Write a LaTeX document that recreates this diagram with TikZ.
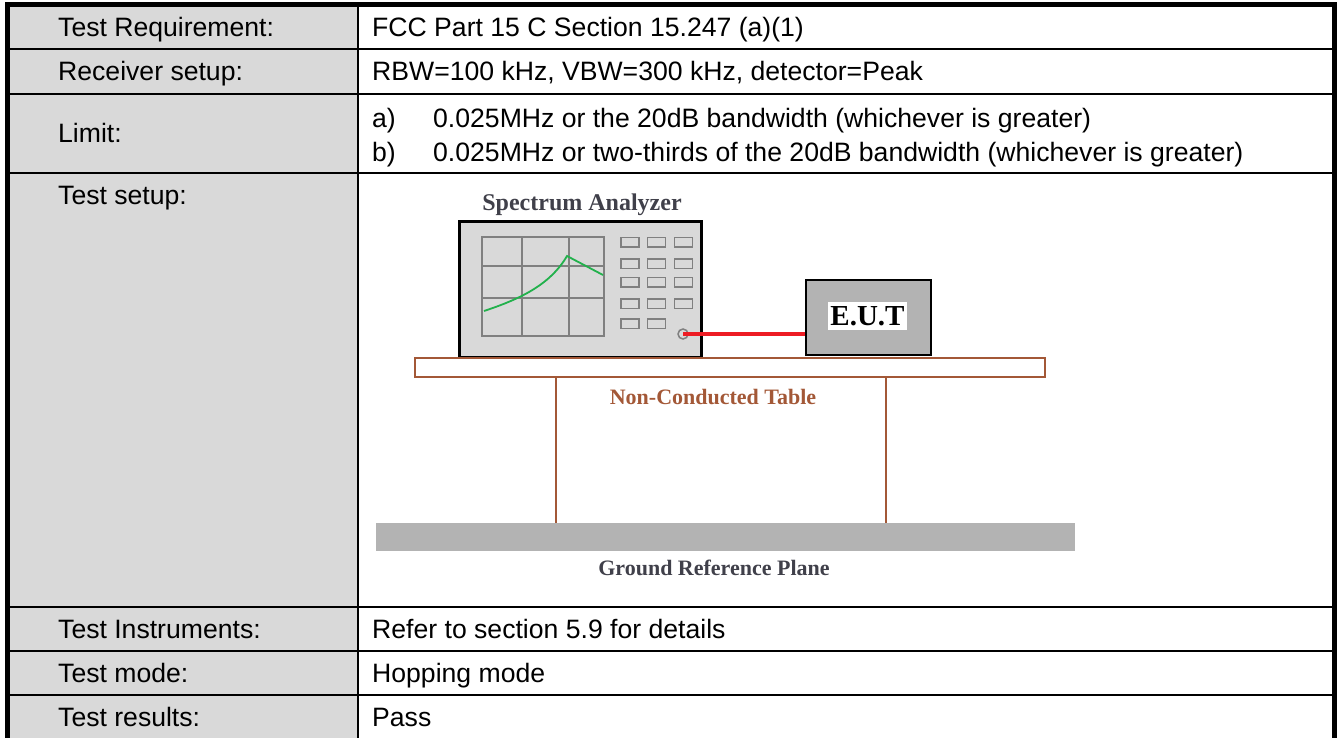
\documentclass[tikz,border=0pt]{standalone}
\usepackage{fontspec}
\setmainfont{Liberation Sans}
\newfontfamily\diagfont{Liberation Serif}
\usetikzlibrary{positioning}
\definecolor{cellgray}{RGB}{217,217,217}
\definecolor{tablebrown}{RGB}{163,88,55}
\definecolor{planegray}{RGB}{179,179,179}
\definecolor{curvegreen}{RGB}{34,177,76}
\definecolor{cablered}{RGB}{237,28,36}
\definecolor{titlegray}{RGB}{64,64,74}

\begin{document}
\begin{tikzpicture}[x=1pt,y=-1pt]
	\tikzset{rowtext/.style = {anchor=base west, inner sep=0pt,
			font=\fontsize{26.6}{32}\selectfont}}
	\tikzset{rule/.style = {line width=2pt}}
	\tikzset{frame/.style = {line width=5pt}}
	\tikzset{analyzer/.style = {shape=rectangle, draw, line width=3pt,
			fill=cellgray, minimum width=242pt, minimum height=136pt}}
	\tikzset{button/.style = {shape=rectangle, draw=gray, line width=1.5pt,
			fill=cellgray, minimum width=18pt, minimum height=9.5pt, inner sep=0pt}}
	\tikzset{screen/.style = {draw=gray, line width=1.8pt}}
	\tikzset{curve/.style = {draw=curvegreen, line width=1.8pt}}
	\tikzset{port/.style = {shape=circle, draw=gray, line width=1.5pt,
			minimum size=10pt, inner sep=0pt}}
	\tikzset{cable/.style = {draw=cablered, line width=4pt}}
	\tikzset{eutbox/.style = {shape=rectangle, draw, line width=2pt,
			fill=planegray, minimum width=125pt, minimum height=75pt}}
	\tikzset{tabletop/.style = {shape=rectangle, draw=tablebrown, line width=2pt,
			minimum width=630pt, minimum height=19pt}}
	\tikzset{leg/.style = {draw=tablebrown, line width=2pt}}
	\tikzset{plane/.style = {shape=rectangle, fill=planegray,
			minimum width=699pt, minimum height=28pt}}
	\tikzset{caption/.style = {inner sep=0pt, anchor=base,
			font=\diagfont\bfseries\fontsize{22}{26}\selectfont}}
	
	\useasboundingbox (0,0) rectangle (1340,738);
	
	% table
	\fill[cellgray] (7.5,4.5) rectangle (358,738);
	\foreach \ry in {49,94,173,607,651,695}
	\draw[rule] (7.5,\ry) -- (1334.5,\ry);
	\draw[rule] (358,4.5) -- (358,738);
	\draw[frame] (7.5,738) -- (7.5,4.5) -- (1334.5,4.5) -- (1334.5,738);
	
	\node[rowtext] (lreq) at (58,37) {Test Requirement:};
	\node[rowtext] (lrx) at (58,81) {Receiver setup:};
	\node[rowtext] (llim) at (58,143) {Limit:};
	\node[rowtext] (lsetup) at (58,204.5) {Test setup:};
	\node[rowtext] (linst) at (58,638.5) {Test Instruments:};
	\node[rowtext] (lmode) at (58,682.5) {Test mode:};
	\node[rowtext] (lres) at (58,726) {Test results:};
	
	\node[rowtext] (vreq) at (372,37) {FCC Part 15 C Section 15.247 (a)(1)};
	\node[rowtext] (vrx) at (372,81) {RBW=100 kHz, VBW=300 kHz, detector=Peak};
	\node[rowtext] (ia) at (372,127.5) {a)};
	\node[rowtext] (va) at (433,127.5) {0.025MHz or the 20dB bandwidth (whichever is greater)};
	\node[rowtext] (ib) at (372,161.5) {b)};
	\node[rowtext] (vb) at (433,161.5) {0.025MHz or two-thirds of the 20dB bandwidth (whichever is greater)};
	\node[rowtext] (vinst) at (372,638.5) {Refer to section 5.9 for details};
	\node[rowtext] (vmode) at (372,682.5) {Hopping mode};
	\node[rowtext] (vres) at (372,726) {Pass};
	
	% setup
	\node[analyzer] (sa) at (580,289) {};
	\node[caption, text=titlegray, font=\diagfont\bfseries\fontsize{24}{28}\selectfont] (satitle) at (582,210) {Spectrum Analyzer};
	\draw[screen] (482,237) rectangle (604,336);
	\draw[screen] (522,237) -- (522,336) (569,237) -- (569,336);
	\draw[screen] (482,266) -- (604,266) (482,298) -- (604,298);
	\draw[curve] (484,311) .. controls (520,299) and (550,285) .. (567,256) -- (603,275);
	\foreach \bx [count=\i] in {630,656.5,683.5}
	\foreach \by [count=\j] in {242,263.5,282,303.5}
	\node[button] (btn\i\j) at (\bx,\by) {};
	\node[button] (btn15) at (630,323.5) {};
	\node[button] (btn25) at (656.5,323.5) {};
	\node[port] (port) at (683,334) {};
	
	\node[eutbox] (eut) at (868.5,317.5) {};
	\node[fill=white, inner xsep=2.5pt, inner ysep=4pt, text height=19.5pt, text depth=0pt,
	font=\diagfont\bfseries\fontsize{29}{32}\selectfont] (eutname) at (867.5,316) {E.U.T};
	
	\node[tabletop] (ttop) at (730,367.5) {};
	\node[plane] (gnd) at (725.5,537) {};
	\coordinate (legl) at (556,0);
	\coordinate (legr) at (886,0);
	\node[caption, text=tablebrown] (ttopname) at (713,404) {Non-Conducted Table};
	\node[caption, text=titlegray] (gndname) at (714,575.5) {Ground Reference Plane};
	
	%edges
	\draw[cable] (port.center) -- (port.center -| eut.west);
	\draw[leg] (ttop.south -| legl) -- (gnd.north -| legl);
	\draw[leg] (ttop.south -| legr) -- (gnd.north -| legr);
\end{tikzpicture}
\end{document}
